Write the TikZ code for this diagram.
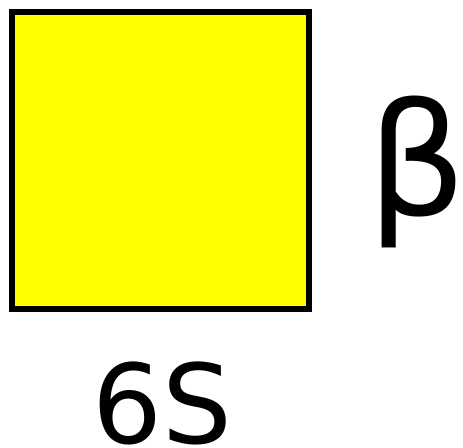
\documentclass[tikz,border=0pt]{standalone}
\usepackage{fontspec}
\setmainfont{DejaVu Sans}
\usepackage{tikz}
\usetikzlibrary{positioning}
\definecolor{boxyellow}{HTML}{FFFF00}

\begin{document}
\begin{tikzpicture}[x=1pt,y=1pt,
  sqbox/.style={draw,line width=6.5pt,fill=boxyellow,
                minimum width=297pt,minimum height=297pt,inner sep=0pt},
  lbl/.style={inner sep=0pt,font=\fontsize{110}{120}\selectfont},
  greek/.style={inner sep=0pt,font=\fontsize{156}{170}\selectfont}
]
\useasboundingbox (0,0) rectangle (463,447);
\node[sqbox] (sq) at (160.5,286.5) {};
\node[greek,anchor=base] (beta) at (417,231) {β};
\node[lbl,anchor=base] (name) at (162,4) {6S};
\end{tikzpicture}
\end{document}
